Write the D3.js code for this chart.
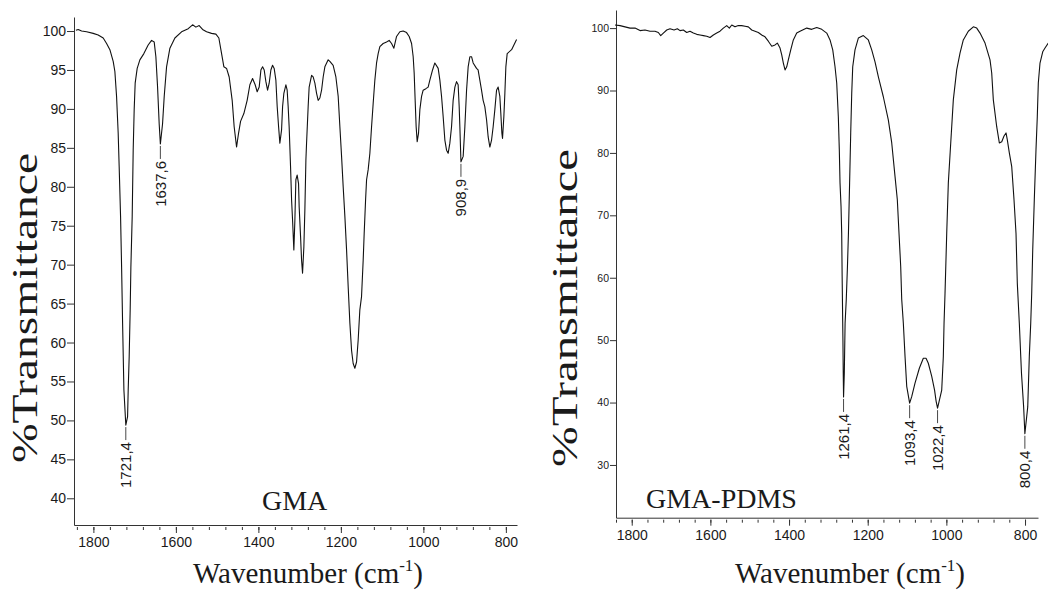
<!DOCTYPE html>
<html>
<head>
<meta charset="utf-8">
<script src="https://cdn.jsdelivr.net/npm/d3@7"></script>
<style>
  body { margin: 0; background: #fff; }
  svg { display: block; }
</style>
</head>
<body>
<svg id="chart" width="1048" height="594"></svg>
<script>
// ---- GMA spectrum (wavenumber in cm-1, % transmittance) ----
const gmaWavenumber = [
  1842.4,1836.8,1828.6,1816.5,1800.5,1788.4,1776.2,1768,1760,1752,1747.9,1743.8,1739.9,1737.5,1734.1,1731.6,
  1729.2,1726,1721.4,1717.1,1715.6,1713.2,1710.8,1709.1,1705.9,1703.5,1701.1,1698.7,1693.8,1687.3,1677.6,1667.2,
  1658.9,1652.6,1648.5,1644.4,1640.5,1637.6,1632.3,1628.3,1622.6,1614.5,1602.4,1586.2,1570.1,1559.5,1551.5,1543.5,
  1535.3,1525.6,1513.5,1503,1495.8,1490.9,1483.6,1477.1,1470.8,1463.5,1458.7,1452.9,1448,1443.2,1435.2,1427.2,
  1420.6,1414.1,1407.8,1402.9,1398,1393.9,1389.8,1385.9,1381.8,1377.7,1373.8,1369.7,1365.6,1361.7,1357.6,1354.4,
  1351,1347.9,1343.8,1341.3,1338.2,1333.3,1330.2,1327.8,1325.4,1322,1319.5,1317.1,1314,1311.5,1309.1,1306,
  1302.6,1301.1,1297.7,1295.3,1292.9,1289.7,1287.3,1284.8,1283.2,1279.3,1276.9,1271,1267.2,1263,1258.9,1255,
  1250.9,1246.8,1242.9,1238.8,1230.8,1226.7,1218.7,1212.1,1206.5,1202.4,1198.3,1194.4,1190.3,1186.2,1182.3,1178.2,
  1174.1,1170.2,1166.1,1162,1158.1,1154,1149.9,1145.9,1143.5,1140.1,1137.7,1133.8,1129.7,1125.6,1121.7,1117.6,
  1113.5,1109.6,1105.5,1097.5,1089.2,1082.9,1077.1,1071.5,1065,1057,1049,1040.7,1034.4,1028.6,1024.7,1022.3,
  1019.9,1017.5,1015,1011.7,1008.5,1004.4,1000.5,993.9,988.4,984.3,977.7,972.2,964.1,960,955.9,952,
  947.9,943.8,939.9,935.8,931.7,927.8,923.6,919.6,915.7,913.2,911.5,908.9,903.5,899.4,895.3,891.4,
  887.3,883.2,879.3,871.1,867.3,863.1,859,855.1,851,846.8,842.9,838.8,834.7,830.8,826.7,822.6,
  818.7,814.6,812.2,809.7,808.1,804.9,802.4,800,796.8,786.1,780.5,774
];
const gmaTransmittance = [
  100.1,100.2,100.0,99.9,99.7,99.5,99.1,98.4,97.6,96.1,94.8,91.6,86.9,82.6,76.2,69.7,
  62.5,53.9,49.4,50.5,53.9,58.2,64.2,69.7,76.2,84.7,89.9,93.3,95.2,96.3,97.1,98.2,
  98.8,98.6,96.7,92.8,88.1,85.5,88.1,91.6,95.4,97.8,99.1,99.9,100.3,100.8,100.5,100.7,
  100.2,99.9,99.7,99.6,99.1,97.6,95.4,95.2,94.1,91.1,87.7,85.1,86.9,88.4,89.4,91.1,
  93.1,93.9,93.1,92.2,92.8,95.0,95.4,95.0,93.5,92.4,93.3,95.0,95.6,95.2,93.7,90.3,
  87.7,85.6,87.3,90.3,92.0,93.1,92.4,90.3,87.7,82.6,78.3,75.7,71.9,75.7,80.9,81.5,
  80.4,77.4,73.6,70.6,68.9,72.3,77.0,83.4,85.6,90.3,92.8,94.3,94.1,93.3,92.0,91.1,
  91.4,92.4,94.1,95.4,96.3,96.1,95.6,94.1,91.6,87.7,83.9,80.0,76.2,71.9,67.2,62.5,
  59.0,57.3,56.7,57.5,60.3,64.2,65.9,70.6,74.0,78.3,80.9,82.2,84.3,87.7,90.7,93.7,
  95.9,97.1,98.0,98.4,98.6,98.8,98.4,97.8,99.3,99.9,100.0,99.8,99.3,98.4,96.7,94.6,
  91.1,87.7,85.8,86.9,89.9,91.6,92.4,92.6,92.8,93.7,95.0,95.9,95.2,93.7,91.6,89.0,
  86.0,84.7,84.3,85.6,87.7,91.1,92.8,93.5,93.1,90.3,87.7,83.2,83.9,87.7,92.4,95.4,
  96.7,96.7,95.9,95.2,95.0,93.7,92.4,91.1,90.3,88.6,86.4,85.1,86.0,87.7,89.9,92.4,
  92.8,91.6,89.4,86.9,86.2,89.0,92.0,95.4,97.1,97.6,98.2,98.9
];
const gmaPeakWavenumber = [1721.4, 1637.6, 908.9];
const gmaPeakTransmittance = [49.4, 85.5, 83.2];

// ---- GMA-PDMS spectrum ----
const pdmsWavenumber = [
  1842.5,1829.7,1817,1804.3,1791.6,1778.9,1766.2,1753.5,1740.8,1732.4,1726.3,1719.6,1711,1702.6,1692.4,1684,
  1677.2,1668.8,1660.2,1651.8,1643.4,1634.7,1626.3,1617.9,1609.3,1600.9,1592.5,1583.9,1575.5,1567.1,1558.5,1551.8,
  1545.7,1537.4,1528.9,1520.3,1511.9,1503.5,1494.9,1486.5,1478.1,1469.5,1461.1,1452.7,1444.0,1435.6,1429.8,1422.9,
  1418.6,1414.5,1410.2,1405.9,1401.8,1395.7,1389.1,1380.5,1372.1,1355,1342.3,1329.6,1316.9,1304.2,1295.8,1288.9,
  1283.1,1278.8,1274.7,1272.2,1270.4,1267.8,1266.1,1265,1263,1262.2,1261.4,1259.5,1257.5,1254.5,1251.5,1249,
  1246,1243.2,1240.6,1238.1,1232.3,1223.8,1211.1,1198.4,1189.8,1181.4,1172.9,1160.3,1147.6,1138.9,1130.5,1124.7,
  1120.4,1116.1,1113.5,1109.4,1105.1,1100.8,1093.4,1088.1,1079.7,1068.7,1058.6,1051.7,1045.9,1037.2,1030,1026,
  1022.4,1011.8,1007.7,1005.9,1003.4,999.1,995,988.9,982.3,973.7,965.3,956.9,944.2,931.4,922.8,914.4,
  901.7,889,884.7,880.6,872,865.3,859.2,853.4,848.3,845,839.9,833.8,828,822.9,819.6,814.5,
  809,803.5,800.4,793.1,789.1,785.5,783,780.4,776.4,772.1,768.8,766.2,761.9,755,749.2,740.8
];
const pdmsTransmittance = [
  100.5,100.4,100.2,100.0,100.0,99.6,99.7,99.5,99.5,99.3,98.8,99.2,99.7,99.9,99.7,99.9,
  99.6,99.7,99.3,99.5,99.2,99.0,98.9,98.8,98.7,98.5,98.9,99.2,99.5,100.0,100.4,100.0,
  100.5,100.2,100.4,100.4,100.3,100.2,99.7,99.5,99.3,98.9,98.6,97.9,97.1,97.3,97.6,96.8,
  95.7,94.4,93.3,93.8,94.9,96.5,98.1,99.2,99.5,100.0,99.8,100.1,99.8,99.2,98.1,96.5,
  93.8,91.2,85.8,80.5,75.2,71.4,67.1,60.2,50.0,44.7,40.9,44.7,52.7,56.5,61.8,67.1,
  75.2,83.2,89.6,93.8,96.5,98.4,98.8,98.1,96.5,94.6,92.2,89.0,85.3,81.6,76.2,72.5,
  67.1,61.8,56.5,52.7,47.4,42.6,39.9,40.95,43.1,45.5,47.1,47.1,46.3,44.2,42.0,40.2,
  39.1,42.0,47.4,52.7,57.5,67.1,75.2,81.6,88.5,93.3,96.0,98.1,99.5,100.2,100.0,99.2,
  97.6,94.9,92.8,88.5,84.2,81.6,81.8,82.7,83.2,82.1,80.0,77.8,72.5,67.1,59.1,52.7,
  44.7,39.3,35.0,39.3,47.4,52.7,57.5,64.5,72.5,80.5,85.8,91.2,94.4,96.2,96.8,97.6
];
const pdmsPeakWavenumber = [1261.4, 1093.4, 1022.4, 800.4];
const pdmsPeakTransmittance = [40.9, 39.9, 39.1, 35.0];

// ---- axis ticks ----
const wavenumberTicks = [1800, 1600, 1400, 1200, 1000, 800];
const wavenumberMinorTicks = d3.range(1840, 799, -40);
const gmaTransmittanceTicks = [40, 45, 50, 55, 60, 65, 70, 75, 80, 85, 90, 95, 100];
const pdmsTransmittanceTicks = [30, 40, 50, 60, 70, 80, 90, 100];

const SANS = "'Liberation Sans', Arial, sans-serif";
const NARROW = "'Liberation Sans Narrow', 'Liberation Sans', Arial, sans-serif";
const SERIF = "'Liberation Serif', 'Times New Roman', serif";
const INK = "#1a1a1a";

const svg = d3.select("#chart");
const commaDecimal = v => d3.format(".1f")(v).replace(".", ",");

const panels = [
  {
    name: "GMA", wn: gmaWavenumber, t: gmaTransmittance,
    peakWn: gmaPeakWavenumber, peakT: gmaPeakTransmittance,
    yTicks: gmaTransmittanceTicks,
    xDomain: [1847, 773], xRange: [74, 517],
    yDomain: [36.57, 101.8], yRange: [525, 17],
    yTickFont: 14, yTickSize: 7,
    yTitleX: 37, yTitleY: 308, yTitleLen: 310,
    nameX: 262, nameY: 510,
    xTitleX: 308
  },
  {
    name: "GMA-PDMS", wn: pdmsWavenumber, t: pdmsTransmittance,
    peakWn: pdmsPeakWavenumber, peakT: pdmsPeakTransmittance,
    yTicks: pdmsTransmittanceTicks,
    xDomain: [1840, 767], xRange: [616, 1038],
    yDomain: [21.55, 102.9], yRange: [517.7, 10],
    yTickFont: 10.5, yTickSize: 6,
    yTitleX: 577, yTitleY: 308, yTitleLen: 318,
    nameX: 646, nameY: 508,
    xTitleX: 850
  }
];

panels.forEach(p => {
  const x = d3.scaleLinear().domain(p.xDomain).range(p.xRange);
  const y = d3.scaleLinear().domain(p.yDomain).range(p.yRange);
  const g = svg.append("g");
  const x0 = p.xRange[0], yBase = p.yRange[0];

  // vertical axis
  const gy = g.append("g")
    .attr("transform", `translate(${x0},0)`)
    .call(d3.axisLeft(y).tickValues(p.yTicks).tickSize(p.yTickSize)
      .tickSizeOuter(0).tickPadding(1).tickFormat(d3.format("d")));
  gy.attr("font-family", SANS).attr("font-size", p.yTickFont);
  gy.selectAll("path, line").attr("stroke", "#333");
  gy.selectAll("text").attr("fill", INK);

  // horizontal axis: minor ticks every 40 cm-1
  const gxMinor = g.append("g")
    .attr("transform", `translate(0,${yBase})`)
    .call(d3.axisBottom(x).tickValues(wavenumberMinorTicks).tickSize(5)
      .tickSizeOuter(0).tickFormat(""));
  gxMinor.select(".domain").remove();
  gxMinor.selectAll(".tick line").attr("y1", 2).attr("stroke", "#333");

  // horizontal axis: labelled ticks
  const gx = g.append("g")
    .attr("transform", `translate(0,${yBase})`)
    .call(d3.axisBottom(x).tickValues(wavenumberTicks).tickSize(8)
      .tickSizeOuter(0).tickPadding(4).tickFormat(d3.format("d")));
  gx.attr("font-family", SANS).attr("font-size", 14);
  gx.selectAll(".tick line").attr("y1", 2).attr("stroke", "#333");
  gx.select(".domain").attr("stroke", "#333");
  gx.selectAll("text").attr("fill", INK);

  // spectrum trace
  const line = d3.line().x(d => x(d[0])).y(d => y(d[1]));
  g.append("path")
    .datum(d3.zip(p.wn, p.t))
    .attr("d", line)
    .attr("fill", "none")
    .attr("stroke", "#111")
    .attr("stroke-width", 1.1)
    .attr("stroke-linejoin", "round");

  // peak annotations
  d3.zip(p.peakWn, p.peakT).forEach(([w, t]) => {
    const px = x(w), py = y(t);
    g.append("line")
      .attr("x1", px).attr("x2", px)
      .attr("y1", py + 2).attr("y2", py + 15)
      .attr("stroke", "#333").attr("stroke-width", 0.9);
    g.append("text")
      .attr("transform", `translate(${px},${py + 17}) rotate(-90)`)
      .attr("text-anchor", "end")
      .attr("dominant-baseline", "central")
      .attr("font-family", NARROW)
      .attr("font-size", 15)
      .attr("fill", INK)
      .text(commaDecimal(w));
  });

  // sample name
  g.append("text")
    .attr("x", p.nameX).attr("y", p.nameY)
    .attr("font-family", SERIF).attr("font-size", 28)
    .attr("fill", INK)
    .text(p.name);

  // y-axis title, stretched along the axis
  g.append("text")
    .attr("transform", `translate(${p.yTitleX},${p.yTitleY}) rotate(-90)`)
    .attr("text-anchor", "middle")
    .attr("font-family", SERIF).attr("font-size", 36)
    .attr("textLength", p.yTitleLen)
    .attr("lengthAdjust", "spacingAndGlyphs")
    .attr("fill", INK)
    .text("%Transmittance");

  // x-axis title with superscript
  const xt = g.append("text")
    .attr("x", p.xTitleX).attr("y", 583)
    .attr("text-anchor", "middle")
    .attr("font-family", SERIF).attr("font-size", 29)
    .attr("fill", INK);
  xt.append("tspan").text("Wavenumber (cm");
  xt.append("tspan").attr("font-size", 17).attr("dy", -12).text("-1");
  xt.append("tspan").attr("dy", 12).text(")");
});
</script>
</body>
</html>
